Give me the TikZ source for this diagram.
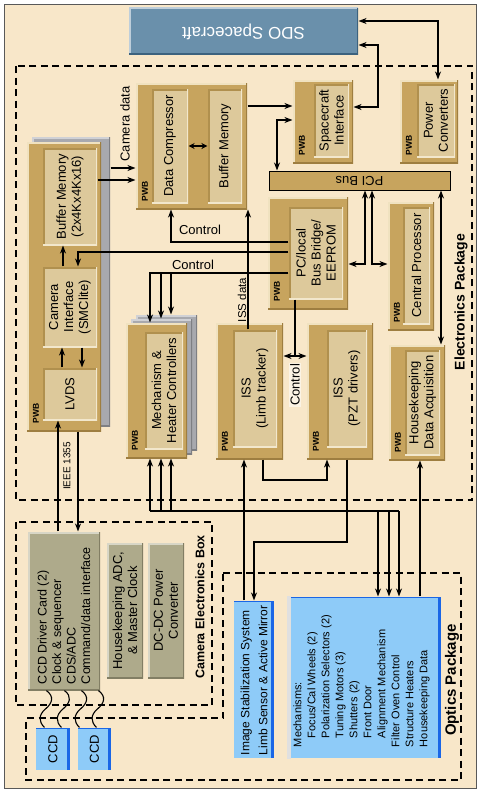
\documentclass[tikz,border=0pt]{standalone}
\usepackage{fontspec}
\setmainfont{Liberation Sans}
\usetikzlibrary{arrows.meta}
\usetikzlibrary{calc}
\usetikzlibrary{fit}
\definecolor{page-beige}{RGB}{248,231,201}
\definecolor{board-tan}{RGB}{199,164,94}
\definecolor{board-light}{RGB}{240,226,192}
\definecolor{board-dark}{RGB}{158,126,64}
\definecolor{inner-tan}{RGB}{221,201,155}
\definecolor{inner-dark}{RGB}{176,144,78}
\definecolor{inner-light}{RGB}{242,231,204}
\definecolor{stack-grey}{RGB}{168,169,174}
\definecolor{stack-light}{RGB}{208,209,213}
\definecolor{sdo-blue}{RGB}{106,144,171}
\definecolor{sdo-dark}{RGB}{60,98,126}
\definecolor{sdo-light}{RGB}{190,206,218}
\definecolor{optic-blue}{RGB}{142,203,248}
\definecolor{optic-edge}{RGB}{26,102,230}
\definecolor{olive-box}{RGB}{174,170,139}
\definecolor{olive-light}{RGB}{216,214,198}
\definecolor{olive-dark}{RGB}{130,126,100}
\definecolor{label-light}{RGB}{251,243,228}

\tikzset{
  bevel/.style 2 args={path picture={
      \draw[#1, line width=3pt] (path picture bounding box.south west) -- (path picture bounding box.north west) -- (path picture bounding box.north east);
      \draw[#2, line width=3pt] (path picture bounding box.north east) -- (path picture bounding box.south east) -- (path picture bounding box.south west);}},
  board/.style={fill=board-tan, inner sep=0pt, bevel={board-light}{board-dark}},
  innerbox/.style={fill=inner-tan, inner sep=0pt, bevel={inner-dark}{inner-light}},
  stack/.style={fill=stack-grey, inner sep=0pt, bevel={stack-light}{stack-grey!75!black}},
  sdobox/.style={fill=sdo-blue, inner sep=0pt, bevel={sdo-light}{sdo-dark}},
  olivebox/.style={fill=olive-box, inner sep=0pt, bevel={olive-light}{olive-dark}},
  opticbox/.style={fill=optic-blue, inner sep=0pt, path picture={
      \fill[optic-edge] ([xshift=-3.5pt]path picture bounding box.north east) rectangle (path picture bounding box.south east);
      \draw[optic-edge, line width=2pt] (path picture bounding box.north west) -- (path picture bounding box.north east);}},
  txt/.style={font=\fontsize{13}{15}\selectfont, align=center, inner sep=0pt},
  lbl/.style={font=\fontsize{13}{15}\selectfont, inner sep=1pt},
  pwb/.style={font=\fontsize{8.5}{9}\selectfont\bfseries, rotate=90, inner sep=0pt},
  pkgline/.style={line width=1.7pt, dash pattern=on 7pt off 4.5pt},
  wire/.style={line width=1.1pt},
}

\begin{document}
\begin{tikzpicture}[x=1pt, y=-1pt, line width=1.1pt, >={Stealth[length=8pt,width=6pt,inset=2.5pt]}]
\useasboundingbox (0,0) rectangle (479,792);
\filldraw[fill=page-beige, draw=black!65, line width=1pt] (4.5,4.5) rectangle (476,788);

% rails for the connectors
\coordinate (ifUp) at (63,0);
\coordinate (ifDown) at (78,0);
\coordinate (lvdsUp) at (62,0);
\coordinate (lvdsDown) at (82,0);
\coordinate (ieeeUp) at (58,0);
\coordinate (ieeeDown) at (78,0);
\coordinate (ctlComp) at (171,0);
\coordinate (ctlMechA) at (150,0);
\coordinate (ctlMechB) at (161,0);
\coordinate (ctlMechC) at (171,0);
\coordinate (issData) at (248,0);
\coordinate (pciScif) at (277,0);
\coordinate (sdoScif) at (378,0);
\coordinate (sdoPwr) at (438,0);
\coordinate (pciBridge) at (365,0);
\coordinate (pciCpu) at (372,0);
\coordinate (pciHk) at (441,0);
\coordinate (ctlIss) at (295,0);
\coordinate (limbOut) at (263,0);
\coordinate (pztIn) at (327,0);
\coordinate (pztOut) at (347,0);
\coordinate (stabIn) at (254,0);
\coordinate (stabOut) at (244,0);
\coordinate (mechOutA) at (378,0);
\coordinate (mechOutB) at (389,0);
\coordinate (mechOutC) at (399,0);
\coordinate (hkIn) at (420,0);
\coordinate (sdoHigh) at (0,21);
\coordinate (sdoLow) at (0,45);
\coordinate (compScif) at (0,106);
\coordinate (scifLow) at (0,107);
\coordinate (scifPci) at (0,120);
\coordinate (camDataA) at (0,168);
\coordinate (camDataB) at (0,180);
\coordinate (ctlCompY) at (0,242);
\coordinate (camifY) at (0,252);
\coordinate (busLvl) at (0,264);
\coordinate (ctlMechY) at (0,273);
\coordinate (ctlIssY) at (0,356);
\coordinate (limbPztY) at (0,480);
\coordinate (mechBusY) at (0,511);
\coordinate (pztStabY) at (0,542);

% spacecraft
\node[sdobox, fit={(129,8) (358,55)}] (sdo) {};
\node[font=\fontsize{17}{19}\selectfont, text=white, rotate=180] (sdoT) at (sdo) {SDO Spacecraft};

% packages
\draw[pkgline] (16,66) rectangle (472,500);
\draw[pkgline] (16,522) rectangle (212,705);
\draw[pkgline] (223,573) -- (461,573) -- (461,780) -- (26,780) -- (26,718) -- (223,718) -- cycle;
\node[font=\fontsize{14}{16}\selectfont\bfseries, rotate=90] (elecT) at (461,302) {Electronics Package};
\node[font=\fontsize{12.5}{14}\selectfont\bfseries, rotate=90] (cebT) at (200,607) {Camera Electronics Box};
\node[font=\fontsize{15}{17}\selectfont\bfseries, rotate=90] (optT) at (452,680) {Optics Package};

% camera board
\node[stack, fit={(32,137) (110,426)}] (camstack) {};
\node[board, fit={(27,142) (101,431)}] (camb) {};
\node[innerbox, fit={(43,148) (97,245)}] (bufmem) {};
\node[txt, rotate=90] (bufmemT) at (bufmem) {Buffer Memory\\(2x4Kx4Kx16)};
\node[innerbox, fit={(43,267) (97,347)}] (camif) {};
\node[txt, rotate=90] (camifT) at (camif) {Camera\\Interface\\(SMClite)};
\node[innerbox, fit={(43,368) (97,420)}] (lvds) {};
\node[txt, rotate=90] (lvdsT) at (lvds) {LVDS};

% compressor board
\node[board, fit={(136,83) (247,209)}] (compb) {};
\node[innerbox, fit={(152,89) (188,203)}] (compr) {};
\node[txt, rotate=90] (comprT) at (compr) {Data Compressor};
\node[innerbox, fit={(208,89) (242,203)}] (cbuf) {};
\node[txt, rotate=90] (cbufT) at (cbuf) {Buffer Memory};

% spacecraft interface, power
\node[board, fit={(293,80) (353,163)}] (scifb) {};
\node[innerbox, fit={(314,84) (349,157)}] (scif) {};
\node[txt, rotate=90] (scifT) at (scif) {Spacecraft\\Interface};
\node[board, fit={(400,80) (458,163)}] (pwrb) {};
\node[innerbox, fit={(417,84) (455,157)}] (pwr) {};
\node[txt, rotate=90] (pwrT) at (pwr) {Power\\Converters};

% PCI bus
\node[fill=board-tan, draw=black, line width=1pt, inner sep=0pt, fit={(269,171) (450,190)}] (pci) {};
\node[txt, rotate=180] (pciT) at (pci) {PCI Bus};

% bridge, cpu, housekeeping
\node[board, fit={(268,197) (348,309)}] (bridgeb) {};
\node[innerbox, fit={(289,207) (343,299)}] (bridge) {};
\node[txt, rotate=90] (bridgeT) at (bridge) {PC/local\\Bus Bridge/\\EEPROM};
\node[board, fit={(388,202) (434,330)}] (cpub) {};
\node[innerbox, fit={(403,207) (430,324)}] (cpu) {};
\node[txt, rotate=90] (cpuT) at (cpu) {Central Processor};
\node[board, fit={(389,345) (445,460)}] (hkdab) {};
\node[innerbox, fit={(405,350) (440,455)}] (hkda) {};
\node[txt, rotate=90] (hkdaT) at (hkda) {Housekeeping\\Data Acquisition};

% ISS boards
\node[board, fit={(216,323) (283,459)}] (isslimbb) {};
\node[innerbox, fit={(233,330) (277,447)}] (isslimb) {};
\node[txt, rotate=90] (isslimbT) at (isslimb) {ISS\\(Limb tracker)};
\node[board, fit={(307,323) (373,459)}] (isspztb) {};
\node[innerbox, fit={(327,330) (367,447)}] (isspzt) {};
\node[txt, rotate=90] (isspztT) at (isspzt) {ISS\\(PZT drivers)};

% mechanism board stack
\node[stack, fit={(136,315) (197,450)}] (mechstackB) {};
\node[stack, fit={(131,319) (192,454)}] (mechstackA) {};
\node[board, fit={(126,323) (187,458)}] (mechb) {};
\node[innerbox, fit={(145,332) (183,449)}] (mech) {};
\node[txt, rotate=90] (mechT) at (mech) {Mechanism \&\\Heater Controllers};

\foreach \b in {camb, compb, scifb, pwrb, bridgeb, cpub, hkdab, isslimbb, isspztb, mechb}
  \node[pwb] (\b-pwb) at ($(\b.south west)+(9.5,-18)$) {PWB};

% camera electronics box
\node[olivebox, fit={(28,532) (100,690)}] (ccddrv) {};
\node[txt, rotate=90, anchor=west, align=left, font=\fontsize{12.5}{14.5}\selectfont] (ccddrvT) at ([yshift=6pt]ccddrv.south) {CCD Driver Card (2)\\Clock \& sequencer\\CDS/ADC\\Command/data interface};
\node[olivebox, fit={(107,543) (143,678)}] (hkadc) {};
\node[txt, rotate=90] (hkadcT) at (hkadc) {Housekeeping ADC,\\\& Master Clock};
\node[olivebox, fit={(148,543) (184,678)}] (dcdc) {};
\node[txt, rotate=90] (dcdcT) at (dcdc) {DC-DC Power\\Converter};

% CCDs
\node[opticbox, fit={(36,728) (70,770)}] (ccdA) {};
\node[txt, rotate=90] (ccdAT) at (ccdA) {CCD};
\node[opticbox, fit={(78,728) (111,770)}] (ccdB) {};
\node[txt, rotate=90] (ccdBT) at (ccdB) {CCD};

% optics package
\node[opticbox, fit={(234,601) (274,758)}] (imgstab) {};
\node[txt, rotate=90, anchor=west, align=left, font=\fontsize{12}{18}\selectfont] (imgstabT) at ([yshift=3pt]imgstab.south) {Image Stabilization System\\Limb Sensor \& Active Mirror};
\node[opticbox, fit={(288,597) (441,758)}] (mechbox) {};
\fill[black!12] (mechbox.north west) rectangle ([xshift=4pt]mechbox.south west);
\node[txt, rotate=90, anchor=west, align=left, font=\fontsize{11}{14}\selectfont] (mechboxT) at ([xshift=-3pt,yshift=11pt]mechbox.south) {Mechanisms:\\
  \hspace*{9pt}Focus/Cal Wheels (2)\\
  \hspace*{9pt}Polarization Selectors (2)\\
  \hspace*{9pt}Tuning Motors (3)\\
  \hspace*{9pt}Shutters (2)\\
  \hspace*{9pt}Front Door\\
  \hspace*{9pt}Alignment Mechanism\\
  Filter Oven Control\\
  Structure Heaters\\
  Housekeeping Data};

% camera board connectors
\draw[->] (camif.north -| ifUp) -- (bufmem.south -| ifUp);
\draw[->] (bridge.west |- camifY) -| (camif.north -| ifDown);
\draw[->] (lvds.north -| lvdsUp) -- (camif.south -| lvdsUp);
\draw[->] (camif.south -| lvdsDown) -- (lvds.north -| lvdsDown);
\draw[->] (ccddrv.north -| ieeeUp) -- (lvds.south -| ieeeUp);
\draw[->] (camb.south -| ieeeDown) -- (ccddrv.north -| ieeeDown);
\node[lbl, rotate=90, font=\fontsize{10}{12}\selectfont] (ieeeT) at (67,466) {IEEE 1355};

% camera data
\draw[->] (camstack.east |- camDataA) -- (compb.west |- camDataA);
\draw[->] (bufmem.east |- camDataB) -- (compb.west |- camDataB);
\node[lbl, rotate=90] (camdataT) at (125,124) {Camera data};
\draw[{Stealth[length=6pt,width=6pt]}-{Stealth[length=6pt,width=6pt]}] (compr.east) -- (cbuf.west);

% spacecraft side
\draw[->] (compb.east |- compScif) -- (scifb.west |- compScif);
\draw[<->] (pci.north -| pciScif) |- (scifb.west |- scifPci);
\draw[<->] (sdo.east |- sdoLow) -| (sdoScif |- scifLow) -- (scifb.east |- scifLow);
\draw[<->] (sdo.east |- sdoHigh) -| (pwrb.north -| sdoPwr);

% PCI bus
\draw[<->] (pci.south -| pciBridge) |- (bridgeb.east |- busLvl);
\draw[<->] (pci.south -| pciCpu) |- (cpub.west |- busLvl);
\draw[<->] (pci.south -| pciHk) -- (hkdab.north -| pciHk);

% control from the bridge
\draw[->] (bridge.west |- ctlCompY) -| (compb.south -| ctlComp);
\node[lbl] (ctlCompT) at (200,230) {Control};
\draw[->] (bridge.west |- ctlMechY) -| (mechb.north -| ctlMechA);
\draw[->] (ctlMechB |- ctlMechY) -- (mechstackA.north -| ctlMechB);
\draw[->] (ctlMechC |- ctlMechY) -- (mechstackB.north -| ctlMechC);
\node[lbl] (ctlMechT) at (193,265) {Control};

% ISS
\draw[->] (isslimb.north -| issData) -- (compb.south -| issData);
\node[lbl, rotate=90, font=\fontsize{11.5}{13}\selectfont] (issdataT) at (242,300) {ISS data};
\draw (bridge.south -| ctlIss) -- (ctlIss |- ctlIssY);
\draw[<->] (isslimbb.east |- ctlIssY) -- (isspztb.west |- ctlIssY);
\node[lbl, rotate=90, fill=label-light] (ctlIssT) at (295,385) {Control};
\draw[->] (isslimbb.south -| limbOut) |- (pztIn |- limbPztY) -- (isspztb.south -| pztIn);
\draw[->] (isspztb.south -| pztOut) |- (stabIn |- pztStabY) -- (imgstab.north -| stabIn);
\draw[->] (imgstab.north -| stabOut) -- (isslimbb.south -| stabOut);

% mechanism lines
\foreach \r in {ctlMechA, ctlMechB, ctlMechC}
  \draw[->] (\r |- mechBusY) -- (mechb.south -| \r);
\draw (ctlMechA |- mechBusY) -- (mechOutC |- mechBusY);
\foreach \r in {mechOutA, mechOutB, mechOutC}
  \draw[->] (\r |- mechBusY) -- (mechbox.north -| \r);
\draw[->] (mechbox.north -| hkIn) -- (hkdab.south -| hkIn);

% CCD wires
\foreach \top/\bot/\ccd in {19/9/ccdA, 37/26/ccdA, 54/2/ccdB, 71/19/ccdB} {
  \coordinate (wS) at ($(ccddrv.south west)+(\top,0)$);
  \coordinate (wE) at ($(\ccd.north west)+(\bot,0)$);
  \draw[wire] (wS) .. controls +(8,6) and +(7,-6) .. ($(wS)!0.5!(wE)$) .. controls +(-7,6) and +(-6,-6) .. (wE);
}
\end{tikzpicture}
\end{document}
